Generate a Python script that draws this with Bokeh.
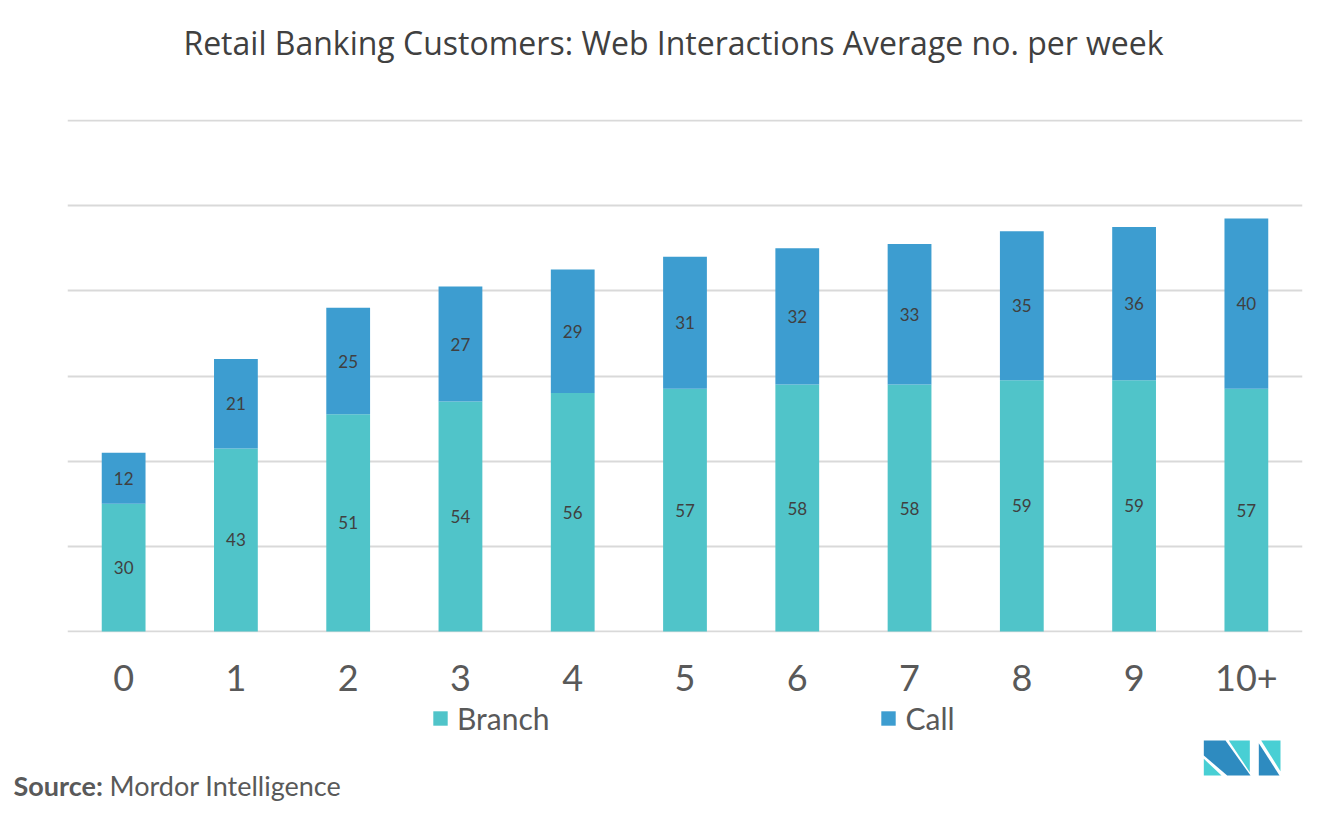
from bokeh.plotting import figure
from bokeh.layouts import column
from bokeh.models import (FactorRange, Range1d, ColumnDataSource, Label, Legend, LegendItem,
                          SingleIntervalTicker)
from bokeh.core.properties import value
from bokeh.embed import file_html
from bokeh.resources import INLINE

# ---- data ----
categories = ["0", "1", "2", "3", "4", "5", "6", "7", "8", "9", "10+"]
branch = [30, 43, 51, 54, 56, 57, 58, 58, 59, 59, 57]
call = [12, 21, 25, 27, 29, 31, 32, 33, 35, 36, 40]
series_names = ["Branch", "Call"]
series_colors = ["#50C4C9", "#3D9DD0"]
title_text = "Retail Banking Customers: Web Interactions Average no. per week"
source_label = "Source:"
source_name = "Mordor Intelligence"

FONT = "Lato"
W = 1327
HEAD_H = 80
MAIN_END = 708
FOOT_START = 698          # footer overlaps the (empty) bottom strip of the main chart
MAIN_H = MAIN_END - HEAD_H
NAN = float("nan")


def blank_figure(y0, y1):
    fig = figure(x_range=Range1d(0, W), y_range=Range1d(y1, y0), width=W, height=y1 - y0,
                 output_backend="svg", toolbar_location=None, min_border=0)
    fig.frame_align = False
    fig.axis.visible = False
    fig.grid.visible = False
    fig.outline_line_color = None
    fig.background_fill_alpha = 0
    fig.border_fill_alpha = 0
    return fig


# ---- header: title ----
h = blank_figure(0, HEAD_H)
h.add_layout(Label(x=673, y=42, text=title_text, text_align="center", text_baseline="middle",
                   text_font="Open Sans", text_font_size="32px", text_color="#404040"))

# ---- main chart ----
src = ColumnDataSource(dict(
    cat=categories,
    Branch=branch,
    Call=call,
    branch_mid=[b / 2 for b in branch],
    call_mid=[b + c / 2 for b, c in zip(branch, call)],
    branch_txt=[str(b) for b in branch],
    call_txt=[str(c) for c in call],
))

p = figure(x_range=FactorRange(*categories), y_range=Range1d(-0.235, 120.235),
           width=W, height=MAIN_H, output_backend="svg", toolbar_location=None,
           min_border_left=67, min_border_right=25, min_border_top=119 - HEAD_H,
           min_border_bottom=MAIN_END - 632)
p.frame_align = False
p.outline_line_color = None
p.background_fill_color = "white"
p.border_fill_alpha = 0

renderers = p.vbar_stack(series_names, x="cat", width=0.39, color=series_colors,
                         line_color=None, source=src)

p.text(x="cat", y="branch_mid", text="branch_txt", source=src, text_align="center",
       text_baseline="middle", text_font=value(FONT), text_font_size="17px", text_color="#404040")
p.text(x="cat", y="call_mid", text="call_txt", source=src, text_align="center",
       text_baseline="middle", text_font=value(FONT), text_font_size="17px", text_color="#404040")

p.yaxis.visible = False
p.ygrid.ticker = SingleIntervalTicker(interval=20)
p.ygrid.grid_line_color = "#D9D9D9"
p.ygrid.grid_line_width = 2
p.xgrid.grid_line_color = None
ax = p.xaxis[0]
ax.axis_line_color = None
ax.major_tick_line_color = None
ax.minor_tick_line_color = None
ax.major_tick_out = 0
ax.major_tick_in = 0
ax.major_label_text_font = FONT
ax.major_label_text_font_size = "36px"
ax.major_label_text_color = "#595959"
ax.major_label_standoff = 32

# ---- footer: legend, source note and logo ----
f = blank_figure(FOOT_START, 815)
f.margin = (FOOT_START - MAIN_END, 0, 0, 0)

# legend keys: same colours as the stacked series, no visible marks of their own
key_renderers = [f.vbar(x=[NAN], top=[NAN], width=1, fill_color=c, line_color=None)
                 for c in series_colors]
legend = Legend(items=[LegendItem(label=n, renderers=[r]) for n, r in zip(series_names, key_renderers)],
                orientation="horizontal", location=(431, 79), glyph_width=18, glyph_height=18,
                label_standoff=8, spacing=330, padding=0, margin=0,
                border_line_color=None, background_fill_alpha=0,
                label_text_font=FONT, label_text_font_size="30px", label_text_color="#595959")
f.add_layout(legend, "center")

f.add_layout(Label(x=13, y=785, text=source_label, text_font=FONT, text_font_style="bold",
                   text_font_size="27px", text_color="#595959", text_baseline="alphabetic"))
f.add_layout(Label(x=109, y=785, text=source_name, text_font=FONT,
                   text_font_size="27px", text_color="#595959", text_baseline="alphabetic"))

dark = "#2E8BC0"
teal = "#48CFD4"
logo_xs = [[1203.3, 1225, 1250, 1226.7, 1203.3],
           [1203.3, 1203.3, 1221],
           [1228.3, 1249.3, 1249.3],
           [1258.3, 1258.3, 1279],
           [1260.7, 1280, 1280]]
logo_ys = [[740, 740, 775, 775, 755],
           [758.3, 775, 775],
           [740, 740, 771.7],
           [742.7, 775, 775],
           [740, 740, 770.7]]
logo_colors = [dark, teal, teal, dark, teal]
f.patches(logo_xs, logo_ys, fill_color=logo_colors, line_color=None)

layout = column(h, p, f, spacing=0)
open("out.html", "w").write(file_html(layout, INLINE))
